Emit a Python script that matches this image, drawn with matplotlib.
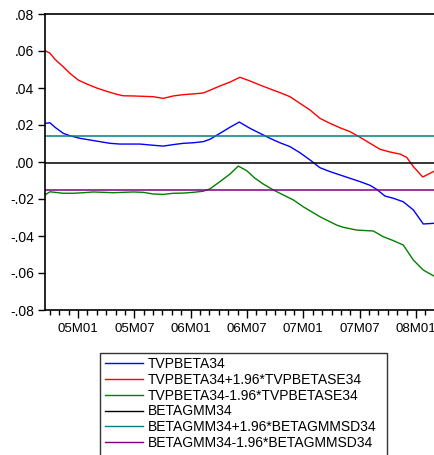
import numpy as np
import matplotlib
matplotlib.use("Agg")
import matplotlib.pyplot as plt
from matplotlib.lines import Line2D
from matplotlib.ticker import FixedLocator, MultipleLocator

plt.rcParams["font.family"] = ["Liberation Sans", "DejaVu Sans"]

# Time positions are months elapsed since 2005M01
beta_months = [-3.51, -2.98, -2.45, -1.57, -0.85, 0.21, 1.28, 2.34, 3.41,
               4.47, 5.54, 6.60, 7.67, 9.08, 10.15, 11.21, 12.28, 13.34,
               14.06, 15.12, 16.19, 17.18, 18.32, 19.38, 20.45, 21.51,
               22.58, 23.64, 24.71, 25.77, 26.84, 27.90, 28.97, 30.03,
               31.10, 31.81, 32.69, 33.58, 34.64, 35.71, 36.77, 38.02]
tvpbeta = [0.0209, 0.0212, 0.0188, 0.0155, 0.0142, 0.0128, 0.0119, 0.0110,
           0.0101, 0.0097, 0.0097, 0.0097, 0.0092, 0.0086, 0.0094, 0.0101,
           0.0104, 0.0110, 0.0123, 0.0155, 0.0188, 0.0216, 0.0182, 0.0155,
           0.0128, 0.0104, 0.0083, 0.0050, 0.0011, -0.0031, -0.0052,
           -0.0070, -0.0088, -0.0106, -0.0126, -0.0148, -0.0184, -0.0196,
           -0.0215, -0.0259, -0.0335, -0.0331]

upper_months = [-3.51, -2.98, -2.45, -1.57, -0.85, 0.03, 0.93, 1.99, 3.06,
                4.12, 4.82, 5.89, 6.95, 8.02, 9.08, 10.15, 11.21, 12.28,
                13.34, 14.06, 15.12, 16.19, 17.25, 18.32, 19.38, 20.45,
                21.51, 22.58, 23.64, 24.71, 25.77, 26.84, 27.90, 28.97,
                30.03, 31.10, 32.16, 33.23, 34.29, 35.00, 35.71, 36.71,
                37.49, 38.02]
tvp_upper = [0.0602, 0.0588, 0.0555, 0.0515, 0.0479, 0.0443, 0.0422, 0.0400,
             0.0382, 0.0366, 0.0358, 0.0357, 0.0355, 0.0353, 0.0344, 0.0357,
             0.0364, 0.0368, 0.0373, 0.0388, 0.0411, 0.0432, 0.0458, 0.0438,
             0.0416, 0.0395, 0.0375, 0.0353, 0.0317, 0.0281, 0.0236, 0.0209,
             0.0185, 0.0164, 0.0134, 0.0101, 0.0069, 0.0054, 0.0043, 0.0025,
             -0.0025, -0.0081, -0.0061, -0.0047]

lower_months = [-3.51, -2.98, -2.45, -1.57, -0.50, 0.57, 1.63, 2.70, 3.76,
                4.82, 5.89, 6.95, 8.02, 9.08, 10.15, 11.21, 12.28, 13.34,
                14.06, 15.12, 16.19, 17.07, 17.97, 18.85, 19.73, 20.80,
                21.86, 22.93, 23.99, 25.77, 27.55, 28.25, 29.68, 30.75,
                31.45, 32.51, 33.58, 34.64, 35.71, 36.77, 38.02]
tvp_lower = [-0.0178, -0.0161, -0.0164, -0.0169, -0.0169, -0.0166, -0.0162,
             -0.0164, -0.0166, -0.0164, -0.0162, -0.0164, -0.0173, -0.0175,
             -0.0169, -0.0168, -0.0164, -0.0158, -0.0145, -0.0106, -0.0065,
             -0.0022, -0.0047, -0.0088, -0.0119, -0.0151, -0.0178, -0.0205,
             -0.0242, -0.0296, -0.0341, -0.0353, -0.0368, -0.0371, -0.0373,
             -0.0404, -0.0425, -0.0449, -0.0530, -0.0584, -0.0620]

betagmm = -0.0004
betagmm_upper = 0.0141
betagmm_lower = -0.0149

labels = ["TVPBETA34",
          "TVPBETA34+1.96*TVPBETASE34",
          "TVPBETA34-1.96*TVPBETASE34",
          "BETAGMM34",
          "BETAGMM34+1.96*BETAGMMSD34",
          "BETAGMM34-1.96*BETAGMMSD34"]
colors = ["#0000FF", "#FF0000", "#008000", "#000000", "#008080", "#800080"]

yticks = [-0.08, -0.06, -0.04, -0.02, 0.0, 0.02, 0.04, 0.06, 0.08]
ytick_labels = ["-.08", "-.06", "-.04", "-.02", ".00", ".02", ".04", ".06", ".08"]
xticks = [0, 6, 12, 18, 24, 30, 36]
xtick_labels = ["05M01", "05M07", "06M01", "06M07", "07M01", "07M07", "08M01"]

W, H = 435, 455
fig = plt.figure(figsize=(W / 100, H / 100), dpi=100)
fig.patch.set_facecolor("white")

def px(x0, y0, x1, y1):
    return [x0 / W, 1 - y1 / H, (x1 - x0) / W, (y1 - y0) / H]

ax = fig.add_axes(px(45, 14, 437, 310))

lw = 1.0
ax.plot(beta_months, tvpbeta, color=colors[0], lw=lw)
ax.plot(upper_months, tvp_upper, color=colors[1], lw=lw)
ax.plot(lower_months, tvp_lower, color=colors[2], lw=lw)
ax.axhline(betagmm, color=colors[3], lw=1.1)
ax.axhline(betagmm_upper, color=colors[4], lw=1.1)
ax.axhline(betagmm_lower, color=colors[5], lw=1.1)

ax.set_xlim(-3.51, 38.23)
ax.set_ylim(-0.08, 0.08)

ax.yaxis.set_major_locator(FixedLocator(yticks))
ax.set_yticklabels(ytick_labels)
ax.xaxis.set_major_locator(FixedLocator(xticks))
ax.set_xticklabels(xtick_labels)
ax.xaxis.set_minor_locator(MultipleLocator(1))

ax.tick_params(axis="y", direction="out", length=5, width=1, pad=3,
               labelsize=10, colors="black")
ax.tick_params(axis="x", which="major", direction="out", length=6, width=1,
               pad=3, labelsize=9.5)
ax.tick_params(axis="x", which="minor", direction="out", length=3.5, width=1)

for side in ["top", "left"]:
    ax.spines[side].set_linewidth(1.2)
    ax.spines[side].set_color("black")
ax.spines["bottom"].set_visible(False)
ax.spines["right"].set_visible(False)
ax.plot([0, 1], [0, 0], transform=ax.transAxes, color="black", lw=1.2,
        clip_on=False)

# Legend box, open at the bottom
bx0, bx1, by0 = 100 / W, 387 / W, 1 - 353 / H
fig.add_artist(Line2D([bx0, bx0, bx1, bx1], [-0.05, by0, by0, -0.05],
                      transform=fig.transFigure, color="#333333", lw=1.0))

handles = [Line2D([], [], color=c, lw=1.0) for c in colors]
fig.legend(handles, labels, loc="upper left",
           bbox_to_anchor=(105 / W, 1 - 357 / H), frameon=False,
           borderpad=0, borderaxespad=0, handlelength=2.73,
           handletextpad=0.36, labelspacing=0.13, fontsize=10)

fig.savefig("out.png", dpi=100)
